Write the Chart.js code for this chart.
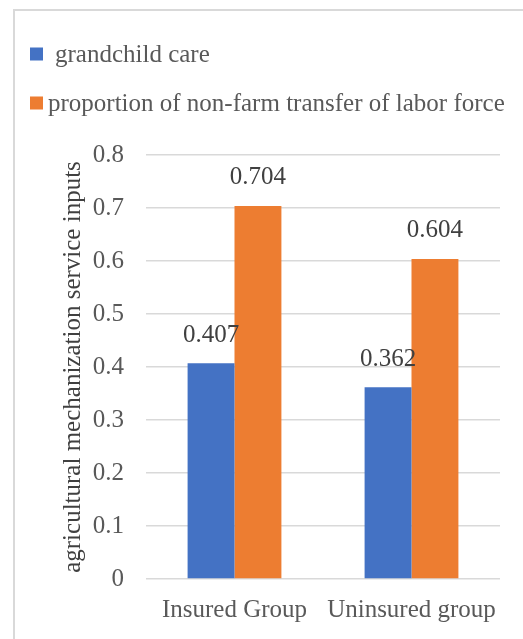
<!DOCTYPE html>
<html>
<head>
<meta charset="utf-8">
<script src="https://cdn.jsdelivr.net/npm/chart.js@4"></script>
<style>
  body { margin: 0; width: 523px; height: 639px; overflow: hidden; background: #fff; position: relative; }
  #frame { position: absolute; left: 13px; top: 9px; width: 600px; height: 700px; border: 2px solid #d9d9d9; box-sizing: border-box; }
  #wrap { position: absolute; left: 0; top: 0; width: 523px; height: 639px; }
</style>
</head>
<body>
<div id="frame"></div>
<div id="wrap"><canvas id="myChart"></canvas></div>
<script>
const groups = ['Insured Group', 'Uninsured group'];
const seriesNames = ['grandchild care', 'proportion of non-farm transfer of labor force'];
const grandchildCare = [0.407, 0.362];
const nonFarmTransfer = [0.704, 0.604];
const yTicks = [0, 0.1, 0.2, 0.3, 0.4, 0.5, 0.6, 0.7, 0.8];

const serif = "'Liberation Serif', 'Times New Roman', serif";
const fontSize = 25;
Chart.defaults.font.family = serif;
Chart.defaults.font.size = fontSize;
Chart.defaults.color = '#595959';

// values above every bar
const barLabels = {
    id: 'barLabels',
    afterDatasetsDraw(chart) {
        const ctx = chart.ctx;
        ctx.save();
        ctx.font = fontSize + 'px ' + serif;
        ctx.fillStyle = '#404040';
        ctx.textAlign = 'center';
        ctx.textBaseline = 'middle';
        chart.data.datasets.forEach((ds, i) => {
            chart.getDatasetMeta(i).data.forEach((bar, j) => {
                ctx.fillText(ds.data[j].toFixed(3), bar.x, bar.y - 28);
            });
        });
        ctx.restore();
    }
};

// stacked legend, one series per row, like the Excel original
const stackedLegend = {
    id: 'stackedLegend',
    afterDraw(chart) {
        const ctx = chart.ctx;
        ctx.save();
        ctx.font = fontSize + 'px ' + serif;
        ctx.textBaseline = 'middle';
        ctx.textAlign = 'left';
        const textX = [55, 48];
        chart.data.datasets.forEach((ds, i) => {
            const cy = 54 + i * 49;
            ctx.fillStyle = ds.backgroundColor;
            ctx.fillRect(30, cy - 6.5, 13, 13);
            ctx.fillStyle = '#595959';
            ctx.fillText(ds.label, textX[i], cy + 1);
        });
        ctx.restore();
    }
};

const ctx = document.getElementById('myChart');
new Chart(ctx, {
    type: 'bar',
    data: {
        labels: groups,
        datasets: [{
            label: seriesNames[0],
            data: grandchildCare,
            backgroundColor: '#4472c4',
            categoryPercentage: 0.53,
            barPercentage: 1
        }, {
            label: seriesNames[1],
            data: nonFarmTransfer,
            backgroundColor: '#ed7d31',
            categoryPercentage: 0.53,
            barPercentage: 1
        }]
    },
    options: {
        responsive: true,
        maintainAspectRatio: false,
        animation: false,
        layout: { padding: { left: 6, right: 23, top: 155, bottom: 0 } },
        plugins: {
            legend: { display: false },
            tooltip: { enabled: false }
        },
        scales: {
            x: {
                grid: { display: false },
                border: { display: false },
                ticks: { padding: 8, color: '#595959', font: { family: serif, size: fontSize } },
                afterFit(scale) { scale.height = 60; }
            },
            y: {
                min: 0,
                max: 0.8,
                afterBuildTicks(scale) { scale.ticks = yTicks.map(v => ({ value: v })); },
                ticks: {
                    padding: 22,
                    color: '#595959',
                    font: { family: serif, size: fontSize },
                    callback: (v) => String(Math.round(v * 10) / 10)
                },
                grid: { color: '#d9d9d9', lineWidth: 1.5, drawTicks: false },
                border: { display: false },
                title: {
                    display: true,
                    text: 'agricultural mechanization service inputs',
                    color: '#404040',
                    font: { family: serif, size: fontSize },
                    padding: { top: 52, bottom: 0 }
                },
                afterFit(scale) { scale.width = 140; }
            }
        }
    },
    plugins: [barLabels, stackedLegend]
});
</script>
</body>
</html>
